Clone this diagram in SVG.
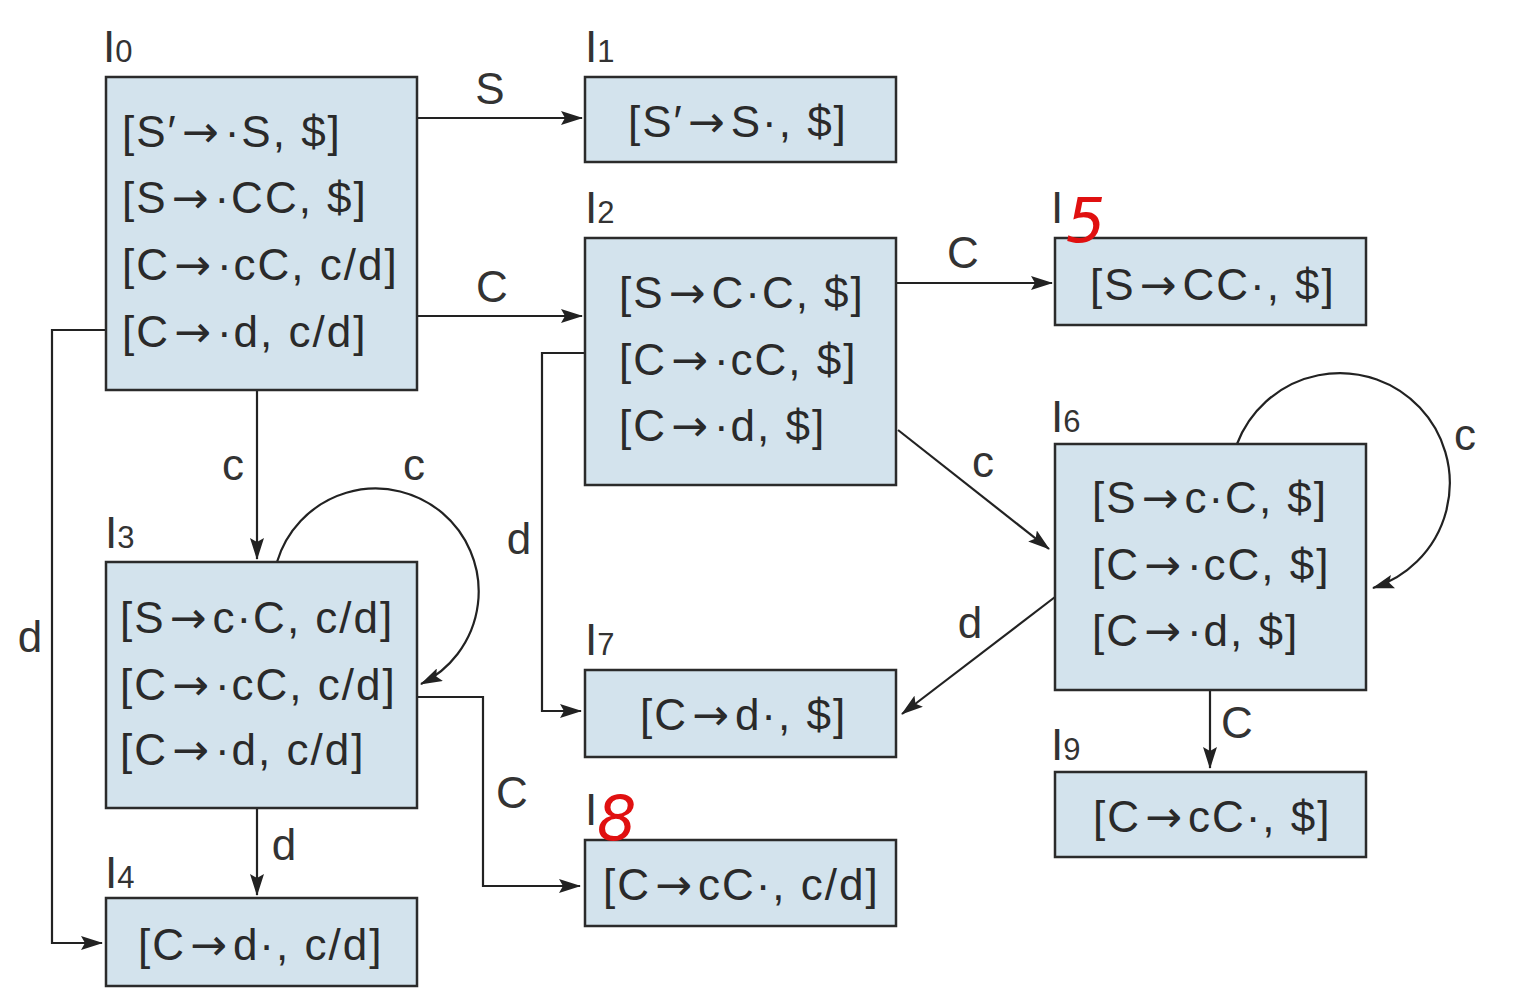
<svg xmlns="http://www.w3.org/2000/svg" width="1517" height="1000" viewBox="0 0 1517 1000">
<defs>
<style>
.box{fill:#d3e3ed;stroke:#2b2b2b;stroke-width:2.5}
.it{font-family:"Liberation Sans",Arial,sans-serif;font-size:44px;fill:#2a2a2a;letter-spacing:2px}
.ar{font-family:"DejaVu Sans",sans-serif;font-size:44px;letter-spacing:6px}
.lbl{font-family:"Liberation Sans",Arial,sans-serif;font-size:44px;fill:#333}
.sub{font-size:31px}
.el{font-family:"Liberation Sans",Arial,sans-serif;font-size:44px;fill:#333;text-anchor:middle}
.edge{fill:none;stroke:#222;stroke-width:2.2}
.red{font-family:"DejaVu Sans",sans-serif;font-size:62px;fill:#e01010;font-style:italic}
</style>
<marker id="ah" markerUnits="userSpaceOnUse" markerWidth="22" markerHeight="14" refX="21" refY="7" orient="auto">
<path d="M0,0 L22,7 L0,14 L4,7 z" fill="#222"/>
</marker>
</defs>
<rect width="1517" height="1000" fill="#fff"/>

<g id="connectors">
<line class="edge" x1="417" y1="118" x2="582" y2="118" marker-end="url(#ah)"/>
<line class="edge" x1="417" y1="316" x2="582" y2="316" marker-end="url(#ah)"/>
<line class="edge" x1="896" y1="283" x2="1052" y2="283" marker-end="url(#ah)"/>
<line class="edge" x1="898" y1="430" x2="1049" y2="549" marker-end="url(#ah)"/>
<line class="edge" x1="257" y1="390" x2="257" y2="559" marker-end="url(#ah)"/>
<path class="edge" d="M277,562 A103,103 0 1 1 421,684" marker-end="url(#ah)"/>
<path class="edge" d="M1237,444 A110,110 0 1 1 1373,588" marker-end="url(#ah)"/>
<polyline class="edge" points="106,330 52,330 52,943 102,943" marker-end="url(#ah)"/>
<polyline class="edge" points="585,353 542,353 542,711 581,711" marker-end="url(#ah)"/>
<line class="edge" x1="1055" y1="597" x2="902" y2="714" marker-end="url(#ah)"/>
<line class="edge" x1="1210" y1="690" x2="1210" y2="768" marker-end="url(#ah)"/>
<polyline class="edge" points="417,697 483,697 483,886 580,886" marker-end="url(#ah)"/>
<line class="edge" x1="257" y1="808" x2="257" y2="895" marker-end="url(#ah)"/>
<text class="el" x="490" y="104">S</text>
<text class="el" x="492" y="302">C</text>
<text class="el" x="963" y="268">C</text>
<text class="el" x="983" y="477">c</text>
<text class="el" x="233" y="480">c</text>
<text class="el" x="414" y="480">c</text>
<text class="el" x="519" y="554">d</text>
<text class="el" x="30" y="652">d</text>
<text class="el" x="1465" y="450">c</text>
<text class="el" x="970" y="638">d</text>
<text class="el" x="1237" y="738">C</text>
<text class="el" x="512" y="808">C</text>
<text class="el" x="284" y="860">d</text>
</g>

<g id="I0">
<rect class="box" x="106" y="77" width="311" height="313"/>
<text class="lbl" x="103" y="62">I<tspan class="sub">0</tspan></text>
<text class="it" x="122" y="147">[S′<tspan class="ar" dx="4">→</tspan>·S, $]</text>
<text class="it" x="122" y="213">[S<tspan class="ar" dx="4">→</tspan>·CC, $]</text>
<text class="it" x="122" y="280">[C<tspan class="ar" dx="4">→</tspan>·cC, c/d]</text>
<text class="it" x="122" y="347">[C<tspan class="ar" dx="4">→</tspan>·d, c/d]</text>
</g>
<g id="I1">
<rect class="box" x="585" y="77" width="311" height="85"/>
<text class="lbl" x="585" y="62">I<tspan class="sub">1</tspan></text>
<text class="it" x="628" y="137">[S′<tspan class="ar" dx="4">→</tspan>S·, $]</text>
</g>
<g id="I2">
<rect class="box" x="585" y="238" width="311" height="247"/>
<text class="lbl" x="585" y="223">I<tspan class="sub">2</tspan></text>
<text class="it" x="619" y="308">[S<tspan class="ar" dx="4">→</tspan>C·C, $]</text>
<text class="it" x="619" y="375">[C<tspan class="ar" dx="4">→</tspan>·cC, $]</text>
<text class="it" x="619" y="441">[C<tspan class="ar" dx="4">→</tspan>·d, $]</text>
</g>
<g id="I5">
<rect class="box" x="1055" y="238" width="311" height="87"/>
<text class="lbl" x="1051" y="223">I</text>
<text class="red" x="1066" y="242">5</text>
<text class="it" x="1090" y="300">[S<tspan class="ar" dx="4">→</tspan>CC·, $]</text>
</g>
<g id="I6">
<rect class="box" x="1055" y="444" width="311" height="246"/>
<text class="lbl" x="1051" y="432">I<tspan class="sub">6</tspan></text>
<text class="it" x="1092" y="513">[S<tspan class="ar" dx="4">→</tspan>c·C, $]</text>
<text class="it" x="1092" y="580">[C<tspan class="ar" dx="4">→</tspan>·cC, $]</text>
<text class="it" x="1092" y="646">[C<tspan class="ar" dx="4">→</tspan>·d, $]</text>
</g>
<g id="I3">
<rect class="box" x="106" y="562" width="311" height="246"/>
<text class="lbl" x="105" y="548">I<tspan class="sub">3</tspan></text>
<text class="it" x="120" y="633">[S<tspan class="ar" dx="4">→</tspan>c·C, c/d]</text>
<text class="it" x="120" y="700">[C<tspan class="ar" dx="4">→</tspan>·cC, c/d]</text>
<text class="it" x="120" y="765">[C<tspan class="ar" dx="4">→</tspan>·d, c/d]</text>
</g>
<g id="I4">
<rect class="box" x="106" y="898" width="311" height="88"/>
<text class="lbl" x="105" y="888">I<tspan class="sub">4</tspan></text>
<text class="it" x="138" y="960">[C<tspan class="ar" dx="4">→</tspan>d·, c/d]</text>
</g>
<g id="I7">
<rect class="box" x="585" y="670" width="311" height="87"/>
<text class="lbl" x="585" y="655">I<tspan class="sub">7</tspan></text>
<text class="it" x="640" y="730">[C<tspan class="ar" dx="4">→</tspan>d·, $]</text>
</g>
<g id="I8">
<rect class="box" x="585" y="840" width="311" height="86"/>
<text class="lbl" x="585" y="825">I</text>
<text class="red" x="597" y="840">8</text>
<text class="it" x="603" y="900">[C<tspan class="ar" dx="4">→</tspan>cC·, c/d]</text>
</g>
<g id="I9">
<rect class="box" x="1055" y="772" width="311" height="85"/>
<text class="lbl" x="1051" y="760">I<tspan class="sub">9</tspan></text>
<text class="it" x="1093" y="832">[C<tspan class="ar" dx="4">→</tspan>cC·, $]</text>
</g>
</svg>
